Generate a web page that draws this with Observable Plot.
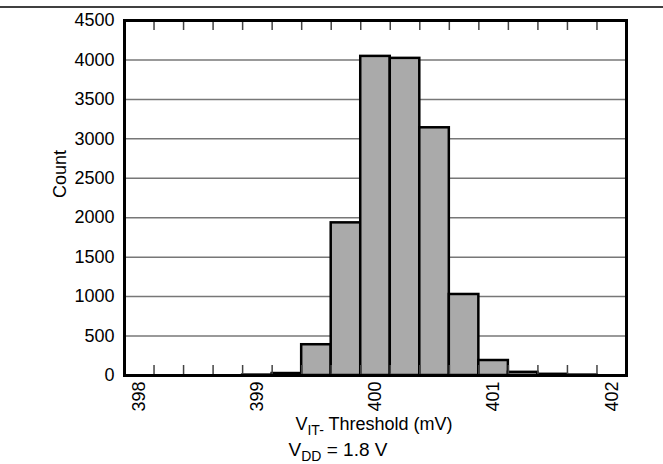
<!DOCTYPE html>
<html>
<head>
<meta charset="utf-8">
<script src="https://cdn.jsdelivr.net/npm/d3@7"></script>
<script src="https://cdn.jsdelivr.net/npm/@observablehq/plot@0.6"></script>
<style>
  html, body { margin: 0; padding: 0; background: white; }
  #chart { position: relative; width: 663px; height: 464px; }
</style>
</head>
<body>
<div id="chart"></div>
<script>
// Histogram bins (centers, mV) and counts
const binCenters = [398, 398.25, 398.5, 398.75, 399, 399.25, 399.5, 399.75, 400, 400.25, 400.5, 400.75, 401, 401.25, 401.5, 401.75, 402];
const counts     = [0,   0,      0,     0,      5,   25,     390,   1935,   4045, 4020,  3140,  1027,   190, 40,     15,    5,      0];
const binWidth = 0.25;
const yTicks = [0, 500, 1000, 1500, 2000, 2500, 3000, 3500, 4000, 4500];
const xTickLabels = [398, 399, 400, 401, 402];
const yLabel = "Count";
const xTitleMain = "V";
const xTitleSub = "IT-";
const xTitleRest = " Threshold (mV)";
const condMain = "V";
const condSub = "DD";
const condRest = " = 1.8 V";

const bins = binCenters.map((c, i) => ({x1: c - binWidth / 2, x2: c + binWidth / 2, count: counts[i]}));
const edges = binCenters.slice(1).map(c => c - binWidth / 2);
const xDomain = [binCenters[0] - binWidth / 2, binCenters[binCenters.length - 1] + binWidth / 2];

const font = "'Liberation Sans', Arial, sans-serif";
const W = 663, H = 464, mL = 124, mR = 37, mT = 20, mB = 89;
const innerH = H - mT - mB;
const fs = 18;

const chart = Plot.plot({
  width: W, height: H,
  marginLeft: mL, marginRight: mR, marginTop: mT, marginBottom: mB,
  style: {fontFamily: font, fontSize: fs + "px", color: "black", background: "white", overflow: "visible"},
  x: {domain: xDomain},
  y: {domain: [yTicks[0], yTicks[yTicks.length - 1]]},
  marks: [
    Plot.ruleY(yTicks.filter(v => v > yTicks[0] && v < yTicks[yTicks.length - 1]), {stroke: "#777", strokeWidth: 1.5}),
    Plot.rectY(bins.filter(d => d.count > 0), {x1: "x1", x2: "x2", y1: 0, y2: "count", fill: "#aaaaaa", stroke: "black", strokeWidth: 2.5}),
    Plot.tickX(edges, {x: d => d, insetTop: innerH - 10, stroke: "#444", strokeWidth: 1.5}),
    Plot.tickX(edges, {x: d => d, insetBottom: innerH - 10, stroke: "#444", strokeWidth: 1.5}),
    Plot.axisX({anchor: "bottom", ticks: xTickLabels, tickSize: 0, tickPadding: 6, tickRotate: -90, tickFormat: d => String(d), label: null, fontSize: fs}),
    Plot.axisY({anchor: "left", ticks: yTicks, tickSize: 0, tickPadding: 10, tickFormat: d => String(d), label: null, fontSize: fs}),
    Plot.text([yLabel], {frameAnchor: "left", dx: -64, rotate: -90, fontSize: fs, fill: "black"}),
    Plot.frame({stroke: "black", strokeWidth: 3})
  ]
});

document.getElementById("chart").appendChild(chart);

const svg = d3.select(chart);
// top rule
svg.append("line").attr("x1", 0).attr("x2", W).attr("y1", 7).attr("y2", 7)
  .attr("stroke", "black").attr("stroke-width", 1.5);

function subText(x, y, main, sub, rest, size) {
  const t = svg.append("text").attr("x", x).attr("y", y)
    .attr("text-anchor", "middle").attr("font-family", font).attr("font-size", size).attr("fill", "black");
  t.append("tspan").text(main);
  t.append("tspan").attr("font-size", Math.round(size * 0.75)).attr("dy", 5).text(sub);
  t.append("tspan").attr("dy", -5).text(rest);
}
subText(374, 430, xTitleMain, xTitleSub, xTitleRest, fs);
subText(338, 456, condMain, condSub, condRest, 19);
</script>
</body>
</html>
